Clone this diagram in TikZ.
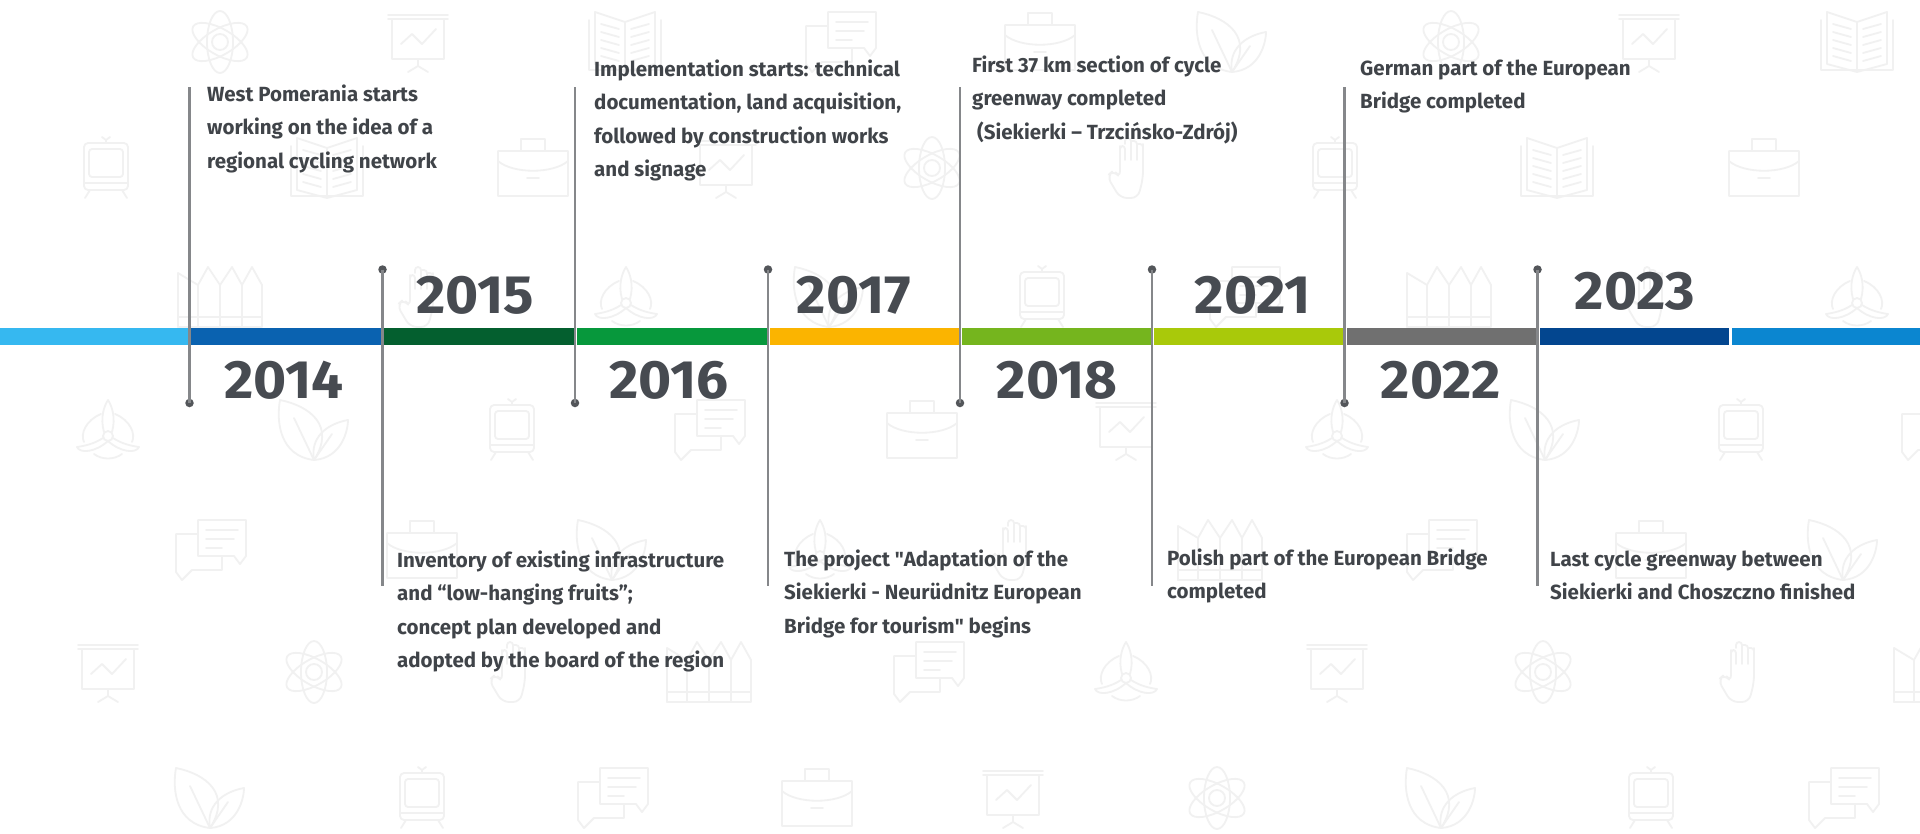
\documentclass[tikz,border=0pt]{standalone}
\usepackage{fontspec}
\setmainfont{Fira Sans}
\newfontfamily\yearfam{Fira Sans}[FakeStretch=1.05]
\newfontfamily\quotefam{Fira Sans}[Ligatures=ResetAll]
\newcommand{\sq}{{\quotefam\char34}}
\definecolor{txt}{HTML}{404449}
\definecolor{yr}{HTML}{474B51}
\definecolor{ico}{HTML}{F1F1F1}
\definecolor{stem}{HTML}{85878A}
\definecolor{dotc}{HTML}{53565A}
\tikzset{
  x=1pt,y=-1pt,
  desc/.style={anchor=north west,inner sep=0pt,align=left,text=txt,font=\fontsize{20.5}{33.4}\selectfont\bfseries},
  year/.style={anchor=center,inner sep=0pt,text=yr,font=\yearfam\fontsize{54}{58}\selectfont\bfseries},
  stemline/.style={draw=stem,line width=2.4pt},
  stemdot/.style={circle,fill=dotc,inner sep=0pt,minimum size=8.5pt},
  iconline/.style={draw=ico,line width=1.8pt,line join=round,line cap=round},
  pics/atom/.style={code={
    \draw[iconline] (0,0) circle (8);
    \draw[iconline] (0,0) ellipse [x radius=13,y radius=31];
    \draw[iconline,rotate=60] (0,0) ellipse [x radius=13,y radius=31];
    \draw[iconline,rotate=-60] (0,0) ellipse [x radius=13,y radius=31];
  }},
  pics/chart/.style={code={
    \draw[iconline] (-30,-27) -- (30,-27) (-30,-23) -- (30,-23);
    \draw[iconline] (-26,-23) -- (-26,17) -- (26,17) -- (26,-23);
    \draw[iconline] (-17,2) -- (-6,-8) -- (4,2) -- (18,-13);
    \draw[iconline] (0,17) -- (0,24) -- (-10,30) (0,24) -- (10,30);
  }},
  pics/book/.style={code={
    \draw[iconline] (0,-20) -- (-30,-30) -- (-30,22) -- (0,30) -- (30,22) -- (30,-30) -- cycle (0,-20) -- (0,30);
    \draw[iconline] (-36,-22) -- (-36,28) -- (36,28) -- (36,-22);
    \draw[iconline] (-24,-18) -- (-6,-13) (-24,-10) -- (-6,-5) (-24,-2) -- (-6,3) (-24,6) -- (-6,11) (-24,14) -- (-6,19);
    \draw[iconline] (24,-18) -- (6,-13) (24,-10) -- (6,-5) (24,-2) -- (6,3) (24,6) -- (6,11) (24,14) -- (6,19);
  }},
  pics/chat/.style={code={
    \draw[iconline] (-12,-30) -- (36,-30) -- (36,6) -- (30,14) -- (24,6) -- (-12,6) -- cycle;
    \draw[iconline] (-12,-16) -- (-34,-16) -- (-34,22) -- (-28,30) -- (-18,20) -- (12,20) -- (12,6);
    \draw[iconline] (-4,-20) -- (28,-20) (-4,-11) -- (24,-11) (-4,-2) -- (12,-2);
  }},
  pics/briefcase/.style={code={
    \draw[iconline] (-12,-17) -- (-12,-29) -- (12,-29) -- (12,-17);
    \draw[iconline] (-35,-17) -- (35,-17) -- (35,-7) .. controls (20,6) and (-20,6) .. (-35,-7) -- cycle;
    \draw[iconline] (-35,-7) -- (-35,28) -- (35,28) -- (35,-7);
    \draw[iconline] (-6,10) -- (6,10);
  }},
  pics/leaf/.style={code={
    \draw[iconline] (0,30) .. controls (-34,26) and (-38,-8) .. (-34,-30) .. controls (-4,-24) and (22,-4) .. (0,30) -- cycle;
    \draw[iconline] (-20,-12) -- (0,30);
    \draw[iconline] (0,30) .. controls (28,28) and (34,0) .. (34,-10) .. controls (12,-6) and (-4,8) .. (0,30) -- cycle;
    \draw[iconline] (18,4) -- (0,30);
  }},
  pics/tram/.style={code={
    \draw[iconline] (-22,-25) [rounded corners=4pt] -- (22,-25) -- (22,22) -- (-22,22) -- cycle;
    \draw[iconline] (-17,-19) [rounded corners=3pt] -- (17,-19) -- (17,9) -- (-17,9) -- cycle;
    \draw[iconline] (-22,15) -- (22,15);
    \draw[iconline] (-4,-31) -- (0,-28) -- (4,-31) (0,-28) -- (0,-25);
    \draw[iconline] (-16,22) -- (-21,30) (16,22) -- (21,30);
  }},
  pics/fence/.style={code={
    \draw[iconline] (-42,30) -- (-42,-24) -- (-22,-12) -- (-22,30);
    \draw[iconline] (-22,-12) -- (-12,-30) -- (0,-12) -- (0,30);
    \draw[iconline] (0,-12) -- (12,-30) -- (22,-12) -- (22,30);
    \draw[iconline] (22,-12) -- (32,-30) -- (42,-12) -- (42,30) -- (-42,30);
    \draw[iconline] (-42,20) -- (42,20);
  }},
  pics/hand/.style={code={
    \draw[iconline,rounded corners=3pt] (-10,-6) -- (-10,-22) -- (-5,-22) -- (-5,-8) (-5,-24) -- (-5,-30) -- (1,-30) -- (1,-8) (1,-27) -- (7,-27) -- (7,-8) (7,-24) -- (13,-24) -- (13,-8);
    \draw[iconline,rounded corners=7pt] (13,-24) -- (13,10) -- (8,30) -- (-10,30) -- (-23,8) -- (-16,2) -- (-10,10) -- (-10,-22);
  }},
  pics/turbine/.style={code={
    \draw[iconline] (0,6) circle (5);
    \draw[iconline] (-4,2) .. controls (-8,-12) and (-4,-24) .. (0,-30) .. controls (4,-24) and (8,-12) .. (4,2);
    \draw[iconline] (5,8) .. controls (14,14) and (24,16) .. (31,17) .. controls (28,24) and (12,22) .. (0,11);
    \draw[iconline] (-5,8) .. controls (-14,14) and (-24,16) .. (-31,17) .. controls (-28,24) and (-12,22) .. (0,11);
    \draw[iconline] (-7,-16) .. controls (-22,-10) and (-28,4) .. (-24,12);
    \draw[iconline] (7,-16) .. controls (22,-10) and (28,4) .. (24,12);
    \draw[iconline] (-14,24) .. controls (-6,30) and (6,30) .. (14,24);
  }},
}
\begin{document}
\begin{tikzpicture}
\useasboundingbox (0,0) rectangle (1920,833);
\fill[white] (0,0) rectangle (1920,833);
% background icons
\foreach \n/\x in {atom/220,chart/418,book/625,chat/840,briefcase/1040,leaf/1232,atom/1451,chart/1649,book/1857}
  \pic at (\x,42) {\n};
\foreach \n/\x in {tram/106,book/327,briefcase/533,chart/726,atom/932,hand/1130,tram/1335,book/1557,briefcase/1764}
  \pic at (\x,168) {\n};
\foreach \n/\x in {fence/220,hand/420,turbine/626,leaf/829,tram/1042,chat/1244,fence/1449,hand/1649,turbine/1857}
  \pic at (\x,297) {\n};
\foreach \n/\x in {turbine/108,leaf/314,tram/512,chat/709,briefcase/922,chart/1126,turbine/1337,leaf/1545,tram/1741,chat/1936}
  \pic at (\x,430) {\n};
\foreach \n/\x in {chat/210,briefcase/422,leaf/612,turbine/820,hand/1013,fence/1220,chat/1441,briefcase/1651,leaf/1843}
  \pic at (\x,550) {\n};
\foreach \n/\x in {chart/108,atom/314,hand/512,fence/709,chat/928,turbine/1126,chart/1337,atom/1543,hand/1741,fence/1936}
  \pic at (\x,672) {\n};
\foreach \n/\x in {leaf/210,tram/422,chat/612,briefcase/817,chart/1013,atom/1217,leaf/1441,tram/1651,chat/1843}
  \pic at (\x,798) {\n};
% timeline bar
\foreach \a/\b/\c in {0/188/36B8F0,191/381/0A62B0,384/574/045F2F,577/767/07983C,770/959/FBB400,962/1151/75B51E,1154/1344/A9C90A,1347/1537/707070,1540/1729/03468F,1732/1920/0B86D0}{
  \definecolor{seg}{HTML}{\c}
  \fill[seg] (\a,328) rectangle (\b,345);
}
% stems: upper labels (end below bar)
\foreach \k/\x/\w in {2014/189.5/2.4,2016/575/2.4,2018/960/1.8,2022/1344.5/2.4}{
  \coordinate (top\k) at (\x,87);
  \node[stemdot] (dot\k) at (\x,403) {};
  \draw[stemline,line width=\w pt] (top\k) -- (dot\k.center);
}
% stems: lower labels (start above bar)
\foreach \k/\x in {2015/382.5,2017/768,2021/1152,2023/1537.5}{
  \coordinate (end\k) at (\x,586);
  \node[stemdot] (dot\k) at (\x,269.5) {};
  \draw[stemline] (dot\k.center) -- (end\k);
}
% years
\node[year] (y2014) at (284,380) {2014};
\node[year] (y2015) at (475,295) {2015};
\node[year] (y2016) at (669,380) {2016};
\node[year] (y2017) at (854,295) {2017};
\node[year] (y2018) at (1057,380) {2018};
\node[year] (y2021) at (1253,295) {2021};
\node[year] (y2022) at (1441,380) {2022};
\node[year] (y2023) at (1635,291) {2023};
% descriptions
\node[desc] (d2014) at (207,78) {\strut West Pomerania starts\\working on the idea of a\\regional cycling network};
\node[desc] (d2016) at (594,53) {\strut Implementation starts: technical\\documentation, land acquisition,\\followed by construction works\\and signage};
\node[desc] (d2018) at (972,49) {\strut First 37 km section of cycle\\greenway completed\\\hspace*{5pt}(Siekierki – Trzcińsko-Zdrój)};
\node[desc] (d2022) at (1360,52) {\strut German part of the European\\Bridge completed};
\node[desc] (d2015) at (397,544) {\strut Inventory of existing infrastructure\\and “low-hanging fruits”;\\concept plan developed and\\adopted by the board of the region};
\node[desc] (d2017) at (784,543) {\strut The project \sq Adaptation of the\\Siekierki - Neurüdnitz European\\Bridge for tourism\sq{} begins};
\node[desc] (d2021) at (1167,542) {\strut Polish part of the European Bridge\\completed};
\node[desc] (d2023) at (1550,543) {\strut Last cycle greenway between\\Siekierki and Choszczno finished};
\end{tikzpicture}
\end{document}
